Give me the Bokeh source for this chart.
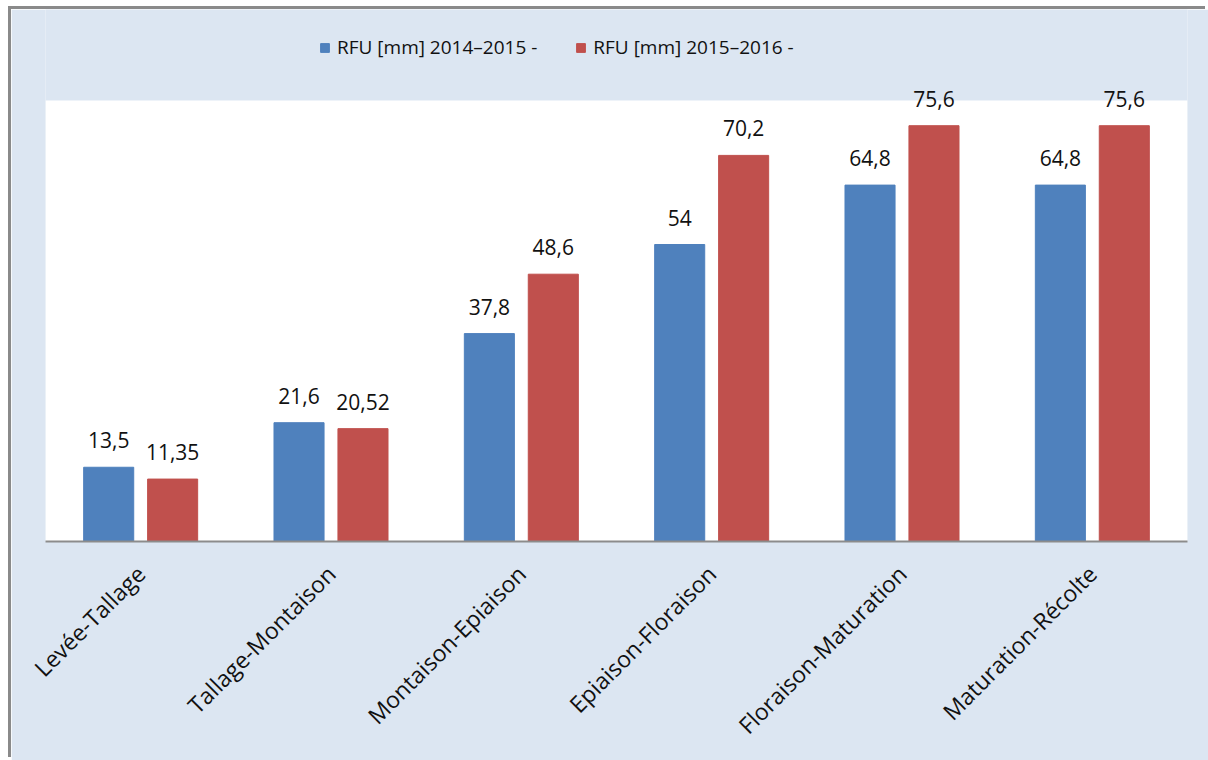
import math
from bokeh.plotting import figure
from bokeh.models import ColumnDataSource, Range1d, Legend, LegendItem, FactorRange, BoxAnnotation
from bokeh.transform import dodge
from bokeh.core.properties import value
from bokeh.embed import file_html
from bokeh.resources import INLINE

categories = ["Levée-Tallage", "Tallage-Montaison", "Montaison-Epiaison",
              "Epiaison-Floraison", "Floraison-Maturation", "Maturation-Récolte"]
rfu_2014_2015 = [13.5, 21.6, 37.8, 54, 64.8, 64.8]
rfu_2015_2016 = [11.35, 20.52, 48.6, 70.2, 75.6, 75.6]
series_names = ["RFU [mm] 2014–2015 -", "RFU [mm] 2015–2016 -"]

def fmt(v):
    return f"{v:g}".replace(".", ",")

src = ColumnDataSource(dict(
    cat=categories,
    a=rfu_2014_2015,
    b=rfu_2015_2016,
    la=[fmt(v) for v in rfu_2014_2015],
    lb=[fmt(v) for v in rfu_2015_2016],
))

BG = "#dce6f2"
BLUE = "#4f81bd"
RED = "#c0504d"
FONT = "Open Sans"

PX_PER_UNIT = 5.5
FRAME_H = 532          # frame spans from figure top to the axis line
WHITE_TOP = 441 / PX_PER_UNIT   # top of the white plotting area

p = figure(width=1197, height=751, x_range=FactorRange(*categories),
           y_range=Range1d(0, FRAME_H / PX_PER_UNIT), output_backend="svg",
           toolbar_location=None,
           min_border_left=34, min_border_right=21, min_border_top=0,
           min_border_bottom=219,
           styles={"margin-top": "9px", "margin-left": "11px",
                   "box-shadow": "-3px -3px 0px 0px #8a8a8a"})

p.background_fill_color = BG
p.border_fill_color = BG
p.outline_line_color = None
p.xgrid.grid_line_color = None
p.ygrid.grid_line_color = None
p.yaxis.visible = False

p.add_layout(BoxAnnotation(bottom=0, top=WHITE_TOP, fill_color="white", fill_alpha=1,
                           line_color=None, level="underlay"))

W = 0.263
r1 = p.vbar(x=dodge("cat", -0.168, range=p.x_range), top="a", width=W, source=src,
            fill_color=BLUE, line_color=BLUE)
r2 = p.vbar(x=dodge("cat", 0.168, range=p.x_range), top="b", width=W, source=src,
            fill_color=RED, line_color=RED)

p.text(x=dodge("cat", -0.168, range=p.x_range), y="a", text="la", source=src,
       text_align="center", text_baseline="alphabetic", y_offset=-27,
       text_font=value(FONT), text_font_size="21px", text_color="#111111")
p.text(x=dodge("cat", 0.168, range=p.x_range), y="b", text="lb", source=src,
       text_align="center", text_baseline="alphabetic", y_offset=-27,
       text_font=value(FONT), text_font_size="21px", text_color="#111111")

ax = p.xaxis[0]
ax.axis_line_color = "#8c8c8c"
ax.axis_line_width = 2
ax.major_tick_line_color = None
ax.minor_tick_line_color = None
ax.major_label_orientation = math.pi / 4
ax.major_label_text_font = FONT
ax.major_label_text_font_size = "23px"
ax.major_label_text_color = "#111111"
ax.major_label_standoff = 22

legend = Legend(items=[LegendItem(label=series_names[0], renderers=[r1]),
                       LegendItem(label=series_names[1], renderers=[r2])],
                location=(274, 481), orientation="horizontal",
                padding=0, spacing=38, label_standoff=7,
                glyph_width=11, glyph_height=11,
                label_text_font=FONT, label_text_font_size="19px",
                label_text_color="#111111",
                border_line_color=None, background_fill_alpha=0)
p.add_layout(legend, "center")

open("out.html", "w").write(file_html(p, INLINE))
